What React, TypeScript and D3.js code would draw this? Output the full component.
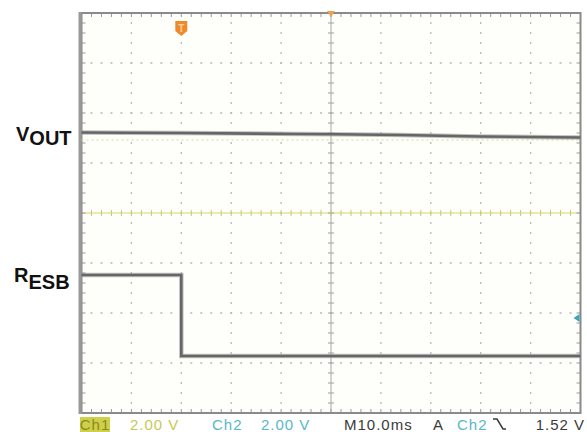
import React from "react";
import * as d3 from "d3";

// ---- data (time in ms relative to trigger, volts) ----
const voutTime = [-20, 0, 24, 44, 60, 80];
const voutVolts = [3.22, 3.2, 3.16, 3.12, 3.06, 3.02];

const resbTime = [-20, 0, 80];
const resbVolts = [3.24, 0, 0];

const refTime = [-20, 80];
const refVolts = [2.92, 2.92];

const timeDomain = [-20, 80];
const voltsPerDiv = 2;
const ch2PositionDiv = -2.86;
const triggerLevel = 1.52;

const statusItems = [
  { text: "Ch1", x: 95, color: "#8a8a20", anchor: "middle" },
  { text: "2.00 V", x: 130, color: "#c8c858", anchor: "start" },
  { text: "Ch2", x: 212, color: "#58b8c8", anchor: "start" },
  { text: "2.00 V", x: 261, color: "#58b8c8", anchor: "start" },
  { text: "M10.0ms", x: 344, color: "#3a3a3a", anchor: "start" },
  { text: "A", x: 433, color: "#3a3a3a", anchor: "start" },
  { text: "Ch2", x: 457, color: "#58b8c8", anchor: "start" },
  { text: "1.52 V", x: 585, color: "#3a3a3a", anchor: "end" },
];

const W = 587;
const H = 432;
const L = 81.5;
const R = 580.5;
const T = 13;
const B = 413;

export default function App() {
  const x = d3.scaleLinear().domain(timeDomain).range([L, R]);
  const y1 = d3.scaleLinear().domain([-4 * voltsPerDiv, 4 * voltsPerDiv]).range([B, T]);
  const off = ch2PositionDiv * voltsPerDiv;
  const y2 = d3
    .scaleLinear()
    .domain([-4 * voltsPerDiv - off, 4 * voltsPerDiv - off])
    .range([B, T]);

  const divX = (R - L) / 10;
  const divY = (B - T) / 8;
  const cx = L + 5 * divX;
  const cy = T + 4 * divY;

  const voutLine = d3
    .line<number>()
    .x((_, i) => x(voutTime[i]))
    .y((d) => y1(d))
    .curve(d3.curveMonotoneX);
  const resbLine = d3
    .line<number>()
    .x((_, i) => x(resbTime[i]))
    .y((d) => y2(d))
    .curve(d3.curveStepAfter);
  const refLine = d3
    .line<number>()
    .x((_, i) => x(refTime[i]))
    .y((d) => y1(d));

  const gridEls: React.ReactNode[] = [];
  for (let i = 1; i < 10; i++) {
    if (i === 5) continue;
    const gx = L + i * divX;
    gridEls.push(
      <line key={"v" + i} x1={gx} x2={gx} y1={T} y2={B} stroke="#b8b8b8" strokeWidth={1.3}
        strokeDasharray={`2 ${divY / 5 - 2}`} strokeDashoffset={1} />
    );
  }
  for (let j = 1; j < 8; j++) {
    if (j === 4) continue;
    const gy = T + j * divY;
    gridEls.push(
      <line key={"h" + j} x1={L} x2={R} y1={gy} y2={gy} stroke="#b8b8b8" strokeWidth={1.3}
        strokeDasharray={`2 ${divX / 5 - 2}`} strokeDashoffset={1} />
    );
  }
  gridEls.push(<line key="cv" x1={cx} x2={cx} y1={T} y2={B} stroke="#a8a8a8" strokeWidth={1} />);
  gridEls.push(<line key="ch" x1={L} x2={R} y1={cy} y2={cy} stroke="#d4d478" strokeWidth={1.2} />);
  for (let k = 1; k < 40; k++) {
    const ty = T + (k * divY) / 5;
    gridEls.push(<line key={"cvt" + k} x1={cx - 3} x2={cx + 3} y1={ty} y2={ty} stroke="#a0a0a0" strokeWidth={1} />);
    gridEls.push(<line key={"lt" + k} x1={L} x2={L + 4} y1={ty} y2={ty} stroke="#999" strokeWidth={1} />);
    gridEls.push(<line key={"rt" + k} x1={R - 4} x2={R} y1={ty} y2={ty} stroke="#999" strokeWidth={1} />);
  }
  for (let k = 1; k < 50; k++) {
    const tx = L + (k * divX) / 5;
    gridEls.push(<line key={"cht" + k} x1={tx} x2={tx} y1={cy - 3} y2={cy + 3} stroke="#c8c868" strokeWidth={1} />);
    gridEls.push(<line key={"tt" + k} x1={tx} x2={tx} y1={T} y2={T + 4} stroke="#999" strokeWidth={1} />);
    gridEls.push(<line key={"bt" + k} x1={tx} x2={tx} y1={B - 4} y2={B} stroke="#999" strokeWidth={1} />);
  }

  const trigX = x(0);
  const trigY = y2(triggerLevel);

  return (
    <svg width={W} height={H} style={{ position: "absolute", left: 0, top: 0 }}
      fontFamily="Liberation Sans, Arial, sans-serif">
      <rect x={0} y={0} width={W} height={H} fill="#ffffff" />
      <rect x={L} y={T} width={R - L} height={B - T} fill="#fefefb" />
      {gridEls}
      <rect x={L} y={T} width={R - L} height={B - T} fill="none" stroke="#8a8a8a" strokeWidth={2} />
      <line x1={L - 1.5} x2={L - 1.5} y1={T - 1} y2={B + 1} stroke="#999" strokeWidth={3} />

      <path d={refLine(refVolts) || ""} fill="none" stroke="#d8d890" strokeWidth={1.2} strokeDasharray="2 3" />

      <path d={voutLine(voutVolts) || ""} fill="none" stroke="#9a9a9a" strokeWidth={4.5} opacity={0.6} />
      <path d={voutLine(voutVolts) || ""} fill="none" stroke="#666" strokeWidth={2.6} />
      <path d={resbLine(resbVolts) || ""} fill="none" stroke="#9a9a9a" strokeWidth={4.5} opacity={0.6} />
      <path d={resbLine(resbVolts) || ""} fill="none" stroke="#666" strokeWidth={2.6} />

      <path d={`M${trigX - 6},${21} L${trigX + 6},${21} L${trigX + 6},${31} L${trigX},${36} L${trigX - 6},${31} Z`} fill="#ee8a2a" />
      <text x={trigX} y={32} fontSize={10} fontWeight="bold" fill="#fbd3a0" textAnchor="middle">T</text>
      <path d={`M${cx - 4},${T - 2} L${cx + 4},${T - 2} L${cx},${T + 4} Z`} fill="#f0a050" />
      <path d={`M${R - 1},${trigY - 4} L${R - 1},${trigY + 4} L${R - 7},${trigY} Z`} fill="#3aa8b4" />

      <text x={16} y={141} fontSize={20} fontWeight="bold" fill="#111">
        V<tspan dy={4}>OUT</tspan>
      </text>
      <text x={14} y={282} fontSize={20} fontWeight="bold" fill="#111">
        R<tspan dy={7}>ESB</tspan>
      </text>

      <rect x={80} y={417} width={30} height={15} fill="#cfd04a" />
      {statusItems.map((s, i) => (
        <text key={i} x={s.x} y={430} fontSize={15} fill={s.color} textAnchor={s.anchor as any}
          letterSpacing={1}>
          {s.text}
        </text>
      ))}
      <path d="M493,419 L497,419 L503,429 L506,429" fill="none" stroke="#3a3a3a" strokeWidth={1.5} />
    </svg>
  );
}
